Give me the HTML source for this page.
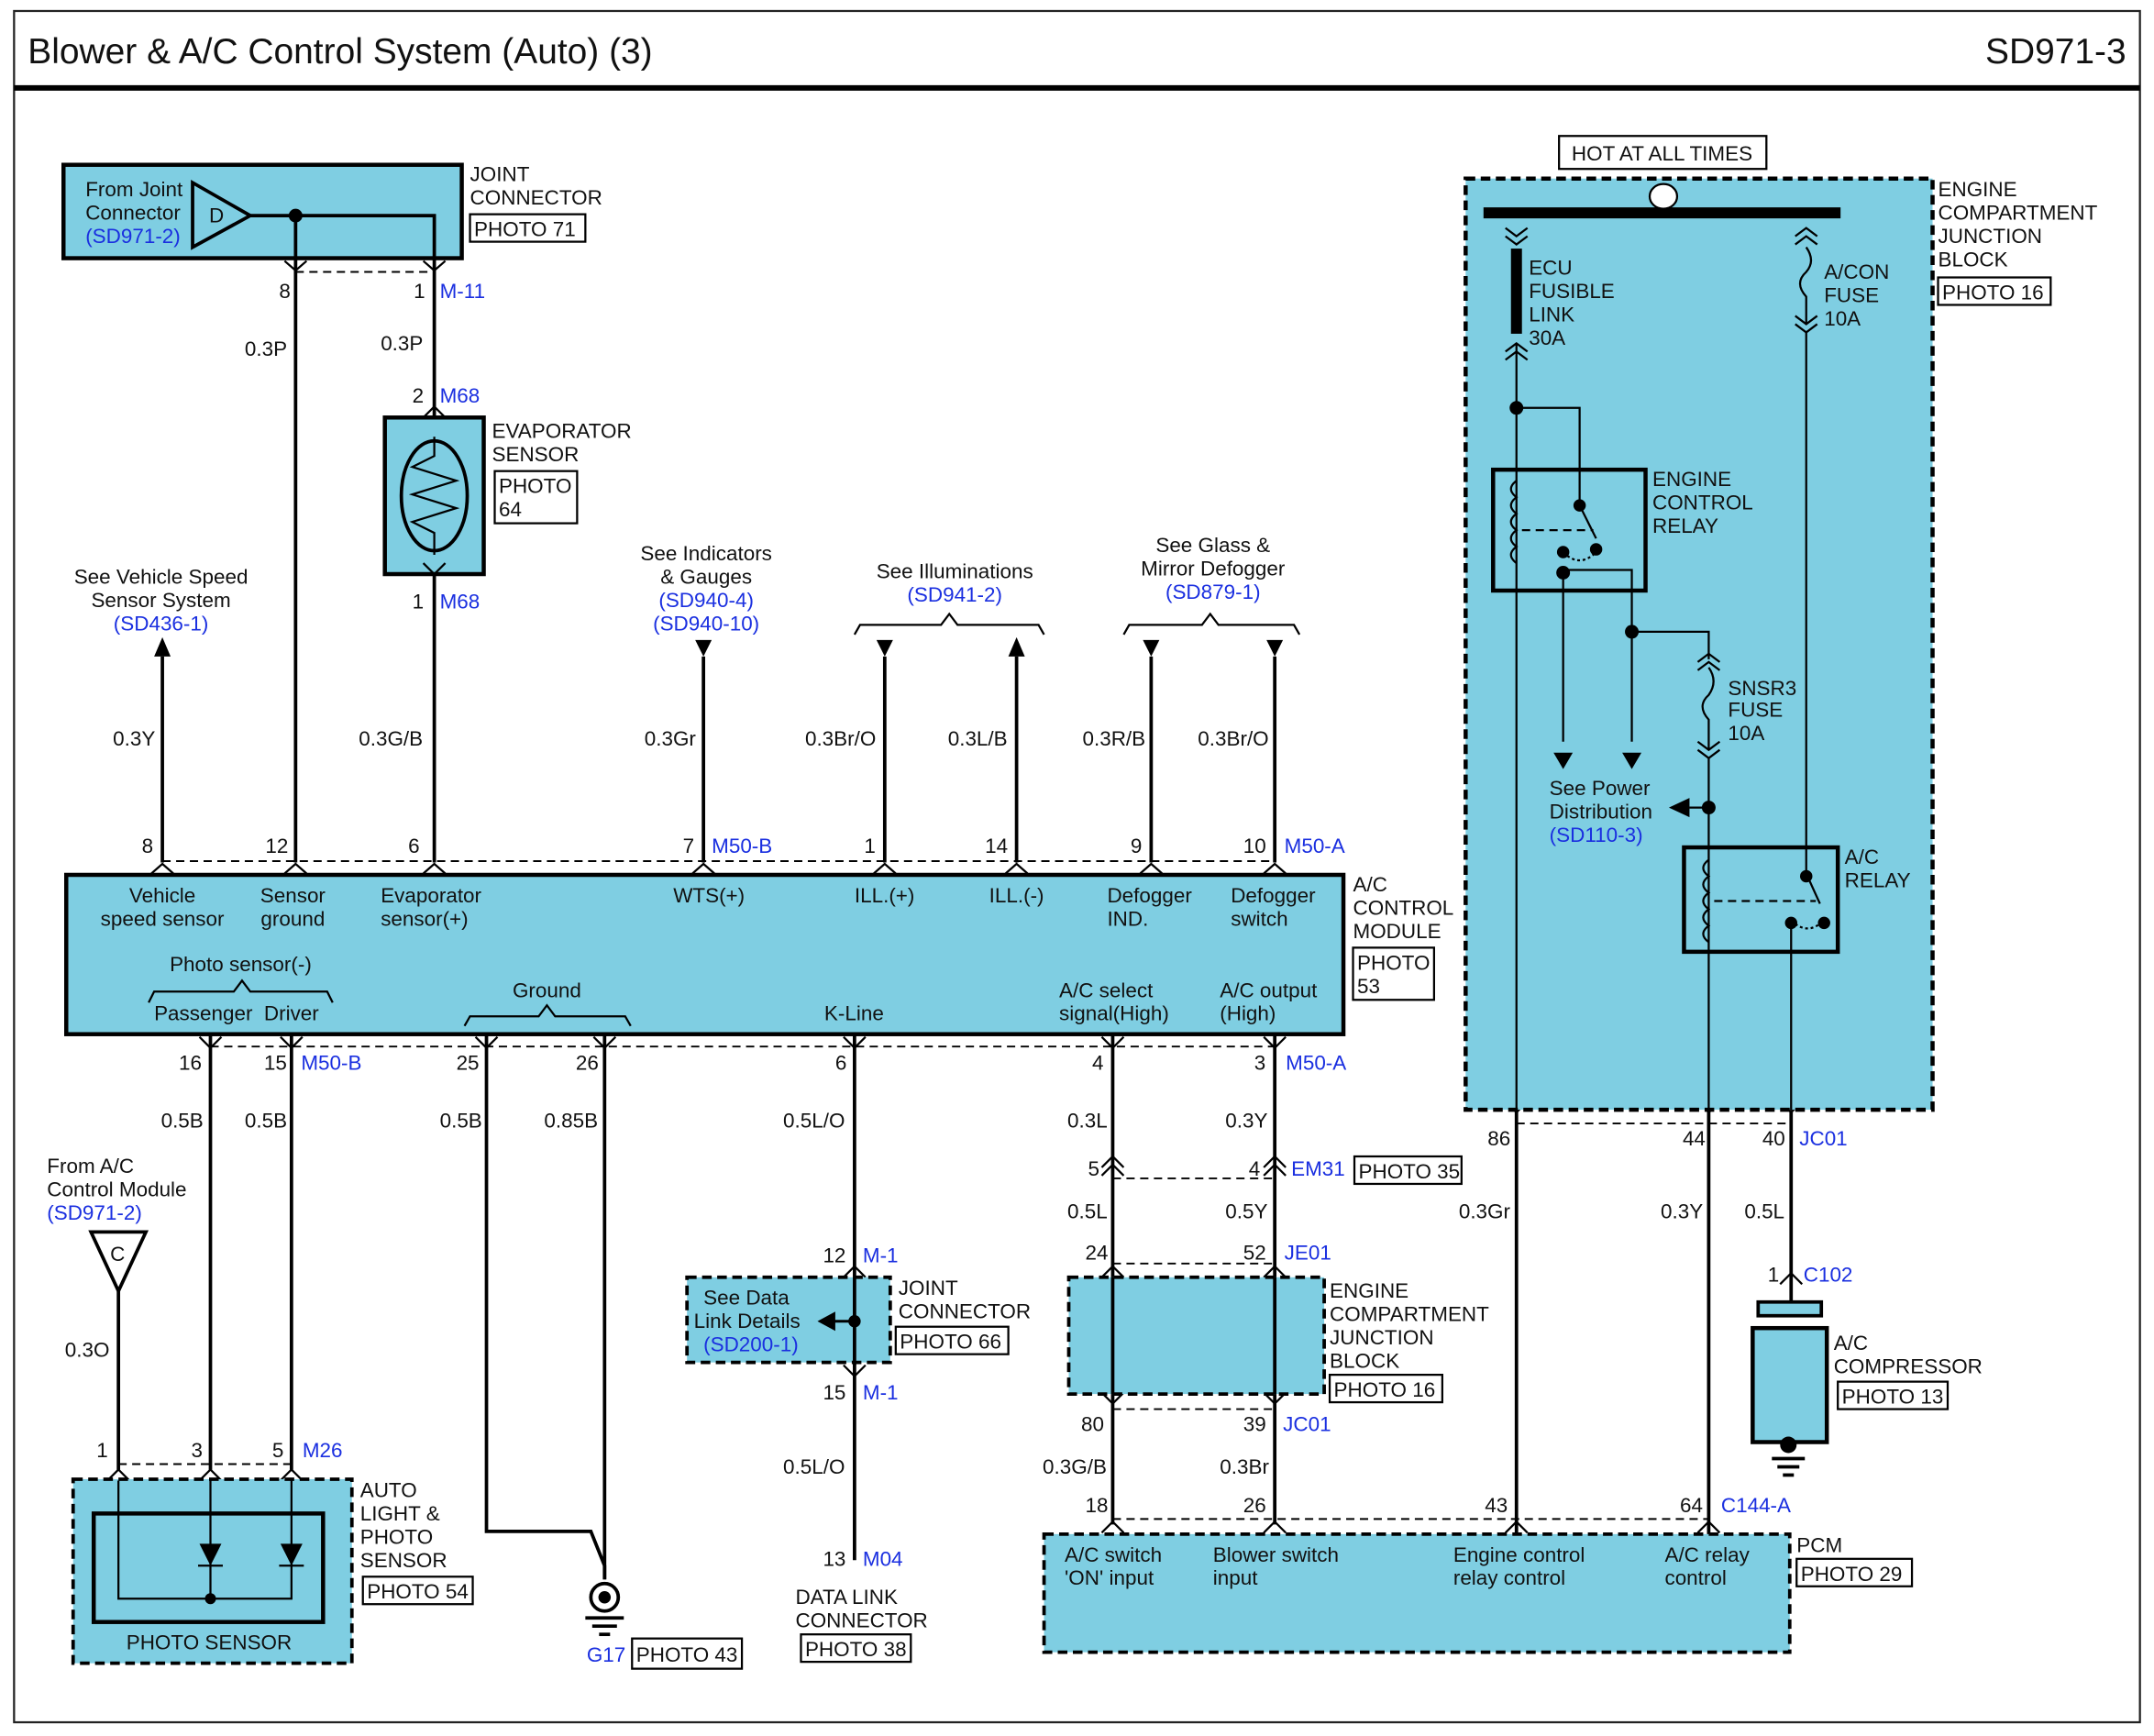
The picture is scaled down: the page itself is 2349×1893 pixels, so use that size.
<!DOCTYPE html>
<html><head><meta charset="utf-8"><style>
html,body{margin:0;padding:0;background:#fff}
svg{display:block}
text{font-family:"Liberation Sans",sans-serif;font-size:15px;fill:#111}
.b{fill:#1a2fe0}
.t{font-size:26px}
</style></head><body>
<svg width="2349" height="1893" viewBox="0 0 1568 1264" xmlns="http://www.w3.org/2000/svg">
<rect x="0" y="0" width="1568" height="1264" fill="#fff"/>
<rect x="10" y="8" width="1548" height="1246" fill="none" stroke="#222" stroke-width="1.5"/>
<text x="20" y="46" class="t">Blower &amp; A/C Control System (Auto) (3)</text>
<text x="1548" y="46" class="t" text-anchor="end">SD971-3</text>
<line x1="10" y1="64" x2="1558" y2="64" stroke="#000" stroke-width="4"/>

<g stroke="#000" stroke-width="2.5" fill="none">
<rect x="46" y="120" width="290" height="68" fill="#7fcee2" stroke-width="3"/>
<polygon points="140,133 140,180 182,157" fill="#7fcee2"/>
<polyline points="182,157 316,157 316,190"/>
<line x1="215" y1="157" x2="215" y2="628"/>
<line x1="316" y1="190" x2="316" y2="304"/>
<line x1="316" y1="418" x2="316" y2="628"/>
<line x1="118" y1="478" x2="118" y2="628"/>
<line x1="512" y1="478" x2="512" y2="628"/>
<line x1="644" y1="478" x2="644" y2="628"/>
<line x1="740" y1="478" x2="740" y2="628"/>
<line x1="838" y1="478" x2="838" y2="628"/>
<line x1="928" y1="478" x2="928" y2="628"/>
<rect x="280" y="304" width="72" height="114" fill="#7fcee2" stroke-width="3"/>
<ellipse cx="316" cy="361" rx="24" ry="40"/>
<polyline points="316,318 316,332 300,340 332,350 300,360 332,370 300,380 316,388 316,404" stroke-width="1.5"/>
<polyline points="622,462 626,455 685,455 691,447 697,455 756,455 760,462" stroke-width="1.5"/>
<polyline points="818,462 822,455 875,455 881,447 887,455 942,455 946,462" stroke-width="1.5"/>
<rect x="48" y="637" width="930" height="116" fill="#7fcee2" stroke-width="3"/>
<polyline points="108,730 112,722 170,722 176,714 182,722 238,722 242,730" stroke-width="1.5"/>
<polyline points="338,747 342,740 392,740 398,732 404,740 455,740 459,747" stroke-width="1.5"/>
<line x1="153" y1="753" x2="153" y2="1070"/>
<line x1="212" y1="753" x2="212" y2="1070"/>
<polyline points="354,753 354,1115 430,1115 440,1140 440,1150"/>
<line x1="440" y1="753" x2="440" y2="1150"/>
<line x1="622" y1="753" x2="622" y2="1136"/>
<line x1="810" y1="753" x2="810" y2="1110"/>
<line x1="928" y1="753" x2="928" y2="1110"/>
<line x1="86" y1="940" x2="86" y2="1070"/>
<polygon points="66,897 106,897 86,940" fill="#fff"/>
<circle cx="440" cy="1163" r="10" fill="#fff"/>
<line x1="426" y1="1178" x2="454" y2="1178"/><line x1="431" y1="1184" x2="449" y2="1184"/><line x1="436" y1="1190" x2="444" y2="1190"/>
</g>
<circle cx="440" cy="1163" r="4.5"/>
<circle cx="215" cy="157" r="5"/>
<polygon points="112,478 124,478 118,464" fill="#000"/>
<polygon points="740,464 746,478 734,478" fill="#000"/>
<polygon points="506,466 518,466 512,478"/>
<polygon points="638,466 650,466 644,478"/>
<polygon points="832,466 844,466 838,478"/>
<polygon points="922,466 934,466 928,478"/>
<text x="152" y="162" font-size="17">D</text>

<g stroke="#000" stroke-width="1.3" stroke-dasharray="6,4" fill="none">
<line x1="215" y1="198" x2="316" y2="198"/>
<line x1="118" y1="627" x2="928" y2="627"/>
<line x1="153" y1="762" x2="928" y2="762"/>
<line x1="810" y1="858" x2="928" y2="858"/>
<line x1="810" y1="920" x2="928" y2="920"/>
<line x1="810" y1="1026" x2="928" y2="1026"/>
<line x1="810" y1="1106" x2="1244" y2="1106"/>
<line x1="1104" y1="818" x2="1304" y2="818"/>
<line x1="86" y1="1066" x2="212" y2="1066"/>
</g>
<g stroke="#000" stroke-width="1.5" fill="none">
<polyline points="207,190 215,197 223,190"/><polyline points="308,190 316,197 324,190"/>
<polyline points="308,304 316,296 324,304"/><polyline points="308,410 316,418 324,410"/>
<polyline points="110,636 118,629 126,636"/><polyline points="207,636 215,629 223,636"/><polyline points="308,636 316,629 324,636"/><polyline points="504,636 512,629 520,636"/><polyline points="636,636 644,629 652,636"/><polyline points="732,636 740,629 748,636"/><polyline points="830,636 838,629 846,636"/><polyline points="920,636 928,629 936,636"/>
<polyline points="145,755 153,763 161,755"/><polyline points="204,755 212,763 220,755"/><polyline points="346,755 354,763 362,755"/><polyline points="432,755 440,763 448,755"/><polyline points="614,755 622,763 630,755"/><polyline points="802,755 810,763 818,755"/><polyline points="920,755 928,763 936,755"/>
<polyline points="802,850 810,842 818,850"/><polyline points="802,856 810,848 818,856"/><polyline points="920,850 928,842 936,850"/><polyline points="920,856 928,848 936,856"/>
<polyline points="802,930 810,922 818,930"/><polyline points="920,930 928,922 936,930"/><polyline points="802,1014 810,1022 818,1014"/><polyline points="920,1014 928,1022 936,1014"/>
<polyline points="614,930 622,922 630,930"/><polyline points="614,994 622,1002 630,994"/>
<polyline points="802,1116 810,1108 818,1116"/><polyline points="920,1116 928,1108 936,1116"/><polyline points="1096,1116 1104,1108 1112,1116"/><polyline points="1236,1116 1244,1108 1252,1116"/>
<polyline points="1096,802 1104,810 1112,802"/><polyline points="1236,802 1244,810 1252,802"/><polyline points="1296,802 1304,810 1312,802"/>
<polyline points="1296,935 1304,927 1312,935"/>
<polyline points="78,1078 86,1070 94,1078"/><polyline points="145,1078 153,1070 161,1078"/><polyline points="204,1078 212,1070 220,1078"/>
</g>

<rect x="500" y="930" width="148" height="62" fill="#7fcee2" stroke="#000" stroke-width="2.5" stroke-dasharray="7,4"/>
<line x1="622" y1="930" x2="622" y2="994" stroke="#000" stroke-width="2.5"/>
<line x1="622" y1="962" x2="606" y2="962" stroke="#000" stroke-width="2" />
<polygon points="595,962 608,955 608,969"/>
<circle cx="622" cy="962" r="4.5"/>
<rect x="778" y="930" width="186" height="85" fill="#7fcee2" stroke="#000" stroke-width="2.5" stroke-dasharray="7,4"/>
<line x1="810" y1="930" x2="810" y2="1015" stroke="#000" stroke-width="2.5"/>
<line x1="928" y1="930" x2="928" y2="1015" stroke="#000" stroke-width="2.5"/>
<rect x="760" y="1117" width="543" height="86" fill="#7fcee2" stroke="#000" stroke-width="2.5" stroke-dasharray="7,4"/>
<rect x="53" y="1077" width="203" height="134" fill="#7fcee2" stroke="#000" stroke-width="2.5" stroke-dasharray="7,4"/>
<rect x="68" y="1102" width="167" height="79" fill="none" stroke="#000" stroke-width="3"/>
<g stroke="#000" stroke-width="1.5" fill="none">
<polyline points="86,1078 86,1164 212,1164 212,1078"/>
<line x1="153" y1="1078" x2="153" y2="1164"/>
<line x1="144" y1="1140" x2="162" y2="1140"/><line x1="203" y1="1140" x2="221" y2="1140"/>
</g>
<polygon points="145,1124 161,1124 153,1140"/><polygon points="204,1124 220,1124 212,1140"/>
<circle cx="153" cy="1164" r="4"/>

<rect x="1067" y="130" width="340" height="678" fill="#7fcee2" stroke="#000" stroke-width="3" stroke-dasharray="7,4"/>
<rect x="1135" y="99" width="151" height="24" fill="#fff" stroke="#000" stroke-width="1.5"/>
<text x="1210" y="117" text-anchor="middle" font-size="16">HOT AT ALL TIMES</text>
<line x1="1080" y1="155" x2="1340" y2="155" stroke="#000" stroke-width="8"/>
<ellipse cx="1211" cy="143" rx="10" ry="9" fill="#fff" stroke="#000" stroke-width="1.5"/>
<rect x="1100" y="181" width="8" height="62" fill="#000"/>
<g stroke="#000" stroke-width="1.5" fill="none">
<polyline points="1096,166 1104,172 1112,166"/><polyline points="1096,172 1104,178 1112,172"/>
<polyline points="1096,256 1104,250 1112,256"/><polyline points="1096,262 1104,256 1112,262"/>
<polyline points="1307,172 1315,166 1323,172"/><polyline points="1307,178 1315,172 1323,178"/>
<polyline points="1307,230 1315,236 1323,230"/><polyline points="1307,236 1315,242 1323,236"/>
<polyline points="1236,482 1244,476 1252,482"/><polyline points="1236,488 1244,482 1252,488"/>
<polyline points="1236,540 1244,546 1252,540"/><polyline points="1236,546 1244,552 1252,546"/>
<path d="M1315,180 Q1322,190 1315,198 Q1306,206 1315,216 L1315,236"/>
<path d="M1244,486 Q1251,496 1244,506 Q1235,514 1244,524 L1244,546"/>
<line x1="1104" y1="250" x2="1104" y2="808"/>
<line x1="1315" y1="242" x2="1315" y2="636"/>
<polyline points="1104,297 1150,297 1150,368"/>
<polyline points="1138,415 1188,415 1188,540"/>
<line x1="1138" y1="415" x2="1138" y2="540"/>
<polyline points="1188,460 1244,460 1244,480"/>
<line x1="1244" y1="552" x2="1244" y2="808"/>
<line x1="1304" y1="670" x2="1304" y2="808"/>
<line x1="1230" y1="588" x2="1244" y2="588"/>
<path d="M1104,350 q-8,6 0,12 q-8,6 0,12 q-8,6 0,12 q-8,6 0,12 q-8,6 0,12"/>
<path d="M1244,626 q-8,6 0,12 q-8,6 0,12 q-8,6 0,12 q-8,6 0,12 q-8,6 0,12"/>
<line x1="1150" y1="368" x2="1162" y2="392"/>
<line x1="1315" y1="636" x2="1325" y2="658"/>
<path d="M1138,402 q12,12 24,0" stroke-dasharray="2,2"/>
<path d="M1304,670 q12,12 24,0" stroke-dasharray="2,2"/>
<line x1="1108" y1="386" x2="1160" y2="386" stroke-dasharray="6,4"/>
<line x1="1248" y1="656" x2="1322" y2="656" stroke-dasharray="6,4"/>
</g>
<rect x="1087" y="342" width="111" height="88" fill="none" stroke="#000" stroke-width="3"/>
<rect x="1226" y="617" width="112" height="76" fill="none" stroke="#000" stroke-width="3"/>
<circle cx="1104" cy="297" r="5"/><circle cx="1150" cy="368" r="4.5"/><circle cx="1162" cy="400" r="4.5"/><circle cx="1138" cy="402" r="4.5"/><circle cx="1138" cy="417" r="5"/>
<circle cx="1188" cy="460" r="5"/><circle cx="1244" cy="588" r="5"/>
<circle cx="1315" cy="638" r="4.5"/><circle cx="1328" cy="672" r="4.5"/><circle cx="1304" cy="672" r="4.5"/>
<polygon points="1131,548 1145,548 1138,560"/><polygon points="1181,548 1195,548 1188,560"/>
<polygon points="1215,588 1230,581 1230,595"/>
<g stroke="#000" stroke-width="2.5" fill="none">
<line x1="1104" y1="808" x2="1104" y2="1117"/>
<line x1="1244" y1="808" x2="1244" y2="1117"/>
<line x1="1304" y1="808" x2="1304" y2="948"/>
<rect x="1280" y="948" width="46" height="10" fill="#7fcee2"/>
<rect x="1276" y="967" width="54" height="83" fill="#7fcee2" stroke-width="3"/>
<line x1="1302" y1="1050" x2="1302" y2="1056"/>
<line x1="1290" y1="1062" x2="1314" y2="1062"/><line x1="1294" y1="1068" x2="1310" y2="1068"/><line x1="1298" y1="1074" x2="1306" y2="1074"/>
</g>
<circle cx="1302" cy="1052" r="6"/>

<g fill="#fff" stroke="#000" stroke-width="1.5">
<rect x="342" y="156" width="84" height="20"/>
<rect x="360" y="343" width="60" height="38"/>
<rect x="985" y="690" width="59" height="38"/>
<rect x="460" y="1193" width="80" height="22"/>
<rect x="652" y="966" width="82" height="20"/>
<rect x="583" y="1190" width="80" height="20"/>
<rect x="986" y="842" width="78" height="20"/>
<rect x="968" y="1001" width="82" height="20"/>
<rect x="1308" y="1135" width="84" height="20"/>
<rect x="1411" y="202" width="82" height="20"/>
<rect x="1338" y="1006" width="80" height="20"/>
<rect x="264" y="1148" width="80" height="20"/>
</g>

<text x="62" y="143">From Joint</text><text x="62" y="160">Connector</text><text x="62" y="177" class="b">(SD971-2)</text>
<text x="342" y="132">JOINT</text><text x="342" y="149">CONNECTOR</text><text x="345" y="172">PHOTO 71</text>
<text x="203" y="217">8</text><text x="301" y="217">1</text><text x="320" y="217" class="b">M-11</text>
<text x="178" y="259">0.3P</text><text x="277" y="255">0.3P</text>
<text x="300" y="293">2</text><text x="320" y="293" class="b">M68</text>
<text x="358" y="319">EVAPORATOR</text><text x="358" y="336">SENSOR</text><text x="363" y="359">PHOTO</text><text x="363" y="376">64</text>
<text x="300" y="443">1</text><text x="320" y="443" class="b">M68</text>
<text x="117" y="425" text-anchor="middle">See Vehicle Speed</text><text x="117" y="442" text-anchor="middle">Sensor System</text><text x="117" y="459" text-anchor="middle" class="b">(SD436-1)</text>
<text x="514" y="408" text-anchor="middle">See Indicators</text><text x="514" y="425" text-anchor="middle">&amp; Gauges</text><text x="514" y="442" text-anchor="middle" class="b">(SD940-4)</text><text x="514" y="459" text-anchor="middle" class="b">(SD940-10)</text>
<text x="695" y="421" text-anchor="middle">See Illuminations</text><text x="695" y="438" text-anchor="middle" class="b">(SD941-2)</text>
<text x="883" y="402" text-anchor="middle">See Glass &amp;</text><text x="883" y="419" text-anchor="middle">Mirror Defogger</text><text x="883" y="436" text-anchor="middle" class="b">(SD879-1)</text>
<text x="82" y="543">0.3Y</text><text x="261" y="543">0.3G/B</text><text x="469" y="543">0.3Gr</text><text x="586" y="543">0.3Br/O</text><text x="690" y="543">0.3L/B</text><text x="788" y="543">0.3R/B</text><text x="872" y="543">0.3Br/O</text>
<text x="103" y="621">8</text><text x="193" y="621">12</text><text x="297" y="621">6</text><text x="497" y="621">7</text><text x="518" y="621" class="b">M50-B</text><text x="629" y="621">1</text><text x="717" y="621">14</text><text x="823" y="621">9</text><text x="905" y="621">10</text><text x="935" y="621" class="b">M50-A</text>
<text x="118" y="657" text-anchor="middle">Vehicle</text><text x="118" y="674" text-anchor="middle">speed sensor</text>
<text x="213" y="657" text-anchor="middle">Sensor</text><text x="213" y="674" text-anchor="middle">ground</text>
<text x="277" y="657">Evaporator</text><text x="277" y="674">sensor(+)</text>
<text x="490" y="657">WTS(+)</text><text x="622" y="657">ILL.(+)</text><text x="720" y="657">ILL.(-)</text>
<text x="806" y="657">Defogger</text><text x="806" y="674">IND.</text><text x="896" y="657">Defogger</text><text x="896" y="674">switch</text>
<text x="175" y="707" text-anchor="middle">Photo sensor(-)</text>
<text x="112" y="743">Passenger</text><text x="192" y="743">Driver</text>
<text x="398" y="726" text-anchor="middle">Ground</text><text x="600" y="743">K-Line</text>
<text x="771" y="726">A/C select</text><text x="771" y="743">signal(High)</text><text x="888" y="726">A/C output</text><text x="888" y="743">(High)</text>
<text x="985" y="649">A/C</text><text x="985" y="666">CONTROL</text><text x="985" y="683">MODULE</text><text x="988" y="706">PHOTO</text><text x="988" y="723">53</text>
<text x="130" y="779">16</text><text x="192" y="779">15</text><text x="219" y="779" class="b">M50-B</text><text x="332" y="779">25</text><text x="419" y="779">26</text><text x="608" y="779">6</text><text x="795" y="779">4</text><text x="913" y="779">3</text><text x="936" y="779" class="b">M50-A</text>
<text x="117" y="821">0.5B</text><text x="178" y="821">0.5B</text><text x="320" y="821">0.5B</text><text x="396" y="821">0.85B</text><text x="570" y="821">0.5L/O</text><text x="777" y="821">0.3L</text><text x="892" y="821">0.3Y</text>
<text x="34" y="854">From A/C</text><text x="34" y="871">Control Module</text><text x="34" y="888" class="b">(SD971-2)</text>
<text x="80" y="918">C</text>
<text x="792" y="856">5</text><text x="909" y="856">4</text><text x="940" y="856" class="b">EM31</text><text x="989" y="858">PHOTO 35</text>
<text x="777" y="887">0.5L</text><text x="892" y="887">0.5Y</text>
<text x="790" y="917">24</text><text x="905" y="917">52</text><text x="935" y="917" class="b">JE01</text>
<text x="599" y="919">12</text><text x="628" y="919" class="b">M-1</text>
<text x="512" y="950">See Data</text><text x="505" y="967">Link Details</text><text x="512" y="984" class="b">(SD200-1)</text>
<text x="654" y="943">JOINT</text><text x="654" y="960">CONNECTOR</text><text x="655" y="982">PHOTO 66</text>
<text x="968" y="945">ENGINE</text><text x="968" y="962">COMPARTMENT</text><text x="968" y="979">JUNCTION</text><text x="968" y="996">BLOCK</text><text x="971" y="1017">PHOTO 16</text>
<text x="47" y="988">0.3O</text>
<text x="599" y="1019">15</text><text x="628" y="1019" class="b">M-1</text>
<text x="787" y="1042">80</text><text x="905" y="1042">39</text><text x="934" y="1042" class="b">JC01</text>
<text x="70" y="1061">1</text><text x="139" y="1061">3</text><text x="198" y="1061">5</text><text x="220" y="1061" class="b">M26</text>
<text x="570" y="1073">0.5L/O</text><text x="759" y="1073">0.3G/B</text><text x="888" y="1073">0.3Br</text>
<text x="262" y="1090">AUTO</text><text x="262" y="1107">LIGHT &amp;</text><text x="262" y="1124">PHOTO</text><text x="262" y="1141">SENSOR</text><text x="267" y="1164">PHOTO 54</text>
<text x="790" y="1101">18</text><text x="905" y="1101">26</text><text x="1081" y="1101">43</text><text x="1223" y="1101">64</text><text x="1253" y="1101" class="b">C144-A</text>
<text x="775" y="1137">A/C switch</text><text x="775" y="1154">'ON' input</text><text x="883" y="1137">Blower switch</text><text x="883" y="1154">input</text>
<text x="1058" y="1137">Engine control</text><text x="1058" y="1154">relay control</text><text x="1212" y="1137">A/C relay</text><text x="1212" y="1154">control</text>
<text x="1308" y="1130">PCM</text><text x="1311" y="1151">PHOTO 29</text>
<text x="599" y="1140">13</text><text x="628" y="1140" class="b">M04</text>
<text x="579" y="1168">DATA LINK</text><text x="579" y="1185">CONNECTOR</text><text x="586" y="1206">PHOTO 38</text>
<text x="152" y="1201" text-anchor="middle">PHOTO SENSOR</text>
<text x="427" y="1210" class="b">G17</text><text x="463" y="1210">PHOTO 43</text>
<text x="1411" y="143">ENGINE</text><text x="1411" y="160">COMPARTMENT</text><text x="1411" y="177">JUNCTION</text><text x="1411" y="194">BLOCK</text><text x="1414" y="218">PHOTO 16</text>
<text x="1113" y="200">ECU</text><text x="1113" y="217">FUSIBLE</text><text x="1113" y="234">LINK</text><text x="1113" y="251">30A</text>
<text x="1328" y="203">A/CON</text><text x="1328" y="220">FUSE</text><text x="1328" y="237">10A</text>
<text x="1203" y="354">ENGINE</text><text x="1203" y="371">CONTROL</text><text x="1203" y="388">RELAY</text>
<text x="1258" y="506">SNSR3</text><text x="1258" y="522">FUSE</text><text x="1258" y="539">10A</text>
<text x="1128" y="579">See Power</text><text x="1128" y="596">Distribution</text><text x="1128" y="613" class="b">(SD110-3)</text>
<text x="1343" y="629">A/C</text><text x="1343" y="646">RELAY</text>
<text x="1083" y="834">86</text><text x="1225" y="834">44</text><text x="1283" y="834">40</text><text x="1310" y="834" class="b">JC01</text>
<text x="1062" y="887">0.3Gr</text><text x="1209" y="887">0.3Y</text><text x="1270" y="887">0.5L</text>
<text x="1287" y="933">1</text><text x="1313" y="933" class="b">C102</text>
<text x="1335" y="983">A/C</text><text x="1335" y="1000">COMPRESSOR</text><text x="1341" y="1022">PHOTO 13</text>
</svg>
</body></html>
